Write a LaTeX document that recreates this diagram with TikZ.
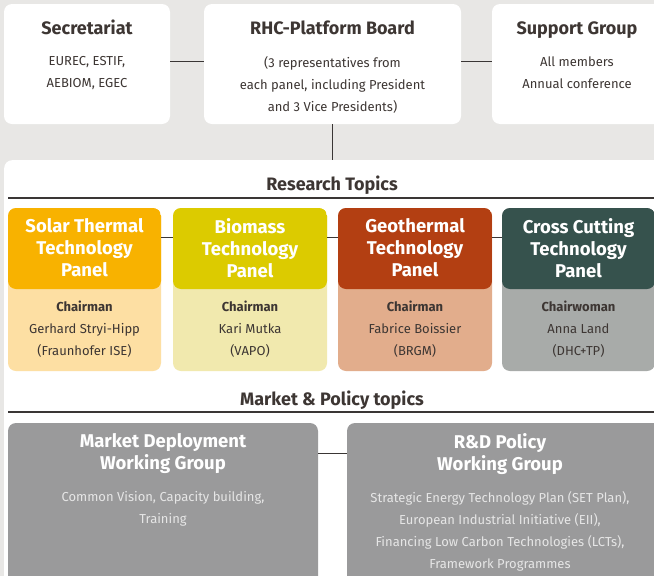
\documentclass[tikz,border=0pt]{standalone}
\usepackage{fontspec}
\setmainfont{Fira Sans}
\usetikzlibrary{positioning}
\definecolor{bg}{HTML}{E8E7E5}
\definecolor{txt}{HTML}{3D3633}
\definecolor{line}{HTML}{3A3635}
\definecolor{solarH}{HTML}{F8B200}
\definecolor{solarL}{HTML}{FDDFA3}
\definecolor{bioH}{HTML}{DCCB00}
\definecolor{bioL}{HTML}{F1E9AE}
\definecolor{geoH}{HTML}{B33F12}
\definecolor{geoL}{HTML}{E2AD8C}
\definecolor{crossH}{HTML}{36524D}
\definecolor{crossL}{HTML}{A8ABA9}
\definecolor{wgray}{HTML}{9A9A9B}
\definecolor{wtxt}{HTML}{E6E6E6}

\begin{document}
\begin{tikzpicture}[x=1pt, y=-1pt,
    box/.style = {fill=white, rounded corners=8pt, inner sep=0pt},
    title/.style = {font=\fontsize{18}{22}\selectfont\bfseries, text=txt, inner sep=0pt},
    body/.style = {font=\fontsize{13}{22}\selectfont, text=txt, align=center, inner sep=0pt,
        execute at begin node={\vphantom{l}}},
    head/.style = {font=\fontsize{18.5}{22}\selectfont\bfseries, text=white, align=center, inner sep=0pt,
        execute at begin node={\vphantom{l}}},
    panel/.style 2 args = {fill=#2, rounded corners=8pt, inner sep=0pt, minimum height=163pt,
        path picture={\fill[#1] (path picture bounding box.north west)
            rectangle ([yshift=-81pt]path picture bounding box.north east);}},
    wg/.style = {fill=wgray, rounded corners=8pt, inner sep=0pt, minimum height=167pt},
    link/.style = {draw=line, line width=1pt},
    rule/.style = {draw=line, line width=1.3pt}]
        \useasboundingbox[fill=bg] (0,0) rectangle (654,576);

        %Top
        \node[box, minimum width=166pt, minimum height=120pt] (sec) at (87,64) {};
        \node[box, minimum width=257pt, minimum height=120pt] (board) at (332.5,64) {};
        \node[box, minimum width=170pt, minimum height=120pt] (sup) at (577,64) {};
        \node[box, minimum width=666pt, minimum height=430pt, anchor=north west] (res) at (4,160) {};

        \node[title, anchor=base] (secT) at (87,34) {Secretariat};
        \node[body, anchor=north] (secB) at (87,56.5) {EUREC, ESTIF,\\AEBIOM, EGEC};
        \node[title, anchor=base] (boardT) at (332.5,34) {RHC-Platform Board};
        \node[body, anchor=north] (boardB) at (332.5,56.5) {(3 representatives from\\each panel, including President\\and 3 Vice Presidents)};
        \node[title, anchor=base] (supT) at (577,34) {Support Group};
        \node[body, anchor=north] (supB) at (577,56.5) {All members\\Annual conference};

        %Research
        \node[title, anchor=base] (resT) at (332,190) {Research Topics};
        \draw[rule] (8,198) -- (654,198);

        \node[panel={solarH}{solarL}, minimum width=153pt] (solar) at (84.5,289.5) {};
        \node[panel={bioH}{bioL}, minimum width=154pt] (bio) at (250,289.5) {};
        \node[panel={geoH}{geoL}, minimum width=154pt] (geo) at (415,289.5) {};
        \node[panel={crossH}{crossL}, minimum width=153pt] (cross) at (578.5,289.5) {};

        \node[head, anchor=north] (solarT) at (84.5,218.5) {Solar Thermal\\Technology\\Panel};
        \node[head, anchor=north] (bioT) at (250,218.5) {Biomass\\Technology\\Panel};
        \node[head, anchor=north] (geoT) at (415,218.5) {Geothermal\\Technology\\Panel};
        \node[head, anchor=north] (crossT) at (578.5,218.5) {Cross Cutting\\Technology\\Panel};

        \node[body, anchor=north] (solarC) at (84.5,301) {\textbf{Chairman}\\Gerhard Stryi-Hipp\\(Fraunhofer ISE)};
        \node[body, anchor=north] (bioC) at (250,301) {\textbf{Chairman}\\Kari Mutka\\(VAPO)};
        \node[body, anchor=north] (geoC) at (415,301) {\textbf{Chairman}\\Fabrice Boissier\\(BRGM)};
        \node[body, anchor=north] (crossC) at (578.5,301) {\textbf{Chairwoman}\\Anna Land\\(DHC+TP)};

        %Market
        \node[title, anchor=base] (mpT) at (332,405) {Market \& Policy topics};
        \draw[rule] (8,412) -- (654,412);

        \node[wg, minimum width=310pt] (md) at (163,506.5) {};
        \node[wg, minimum width=315pt] (rd) at (504.5,506.5) {};

        \node[head, anchor=north] (mdT) at (163,433.5) {Market Deployment\\Working Group};
        \node[body, text=wtxt, anchor=north] (mdB) at (163,491.5) {Common Vision, Capacity building,\\Training};
        \node[head, anchor=north] (rdT) at (500,433.5) {R\&D Policy\\Working Group};
        \node[body, text=wtxt, anchor=north] (rdB) at (500,491.5) {Strategic Energy Technology Plan (SET Plan),\\European Industrial Initiative (EII),\\Financing Low Carbon Technologies (LCTs),\\Framework Programmes};

        %Lines
        \draw[link] ([yshift=3pt]sec.east) -- ([yshift=3pt]board.west);
        \draw[link] ([yshift=3pt]board.east) -- ([yshift=3pt]sup.west);
        \draw[link] (board.south) -- (board.south |- res.north);
        \draw[link] ([yshift=52.5pt]solar.east) -- ([yshift=52.5pt]bio.west);
        \draw[link] ([yshift=52.5pt]bio.east) -- ([yshift=52.5pt]geo.west);
        \draw[link] ([yshift=52.5pt]geo.east) -- ([yshift=52.5pt]cross.west);
        \draw[link] ([yshift=53.5pt]md.east) -- ([yshift=53.5pt]rd.west);
\end{tikzpicture}
\end{document}
